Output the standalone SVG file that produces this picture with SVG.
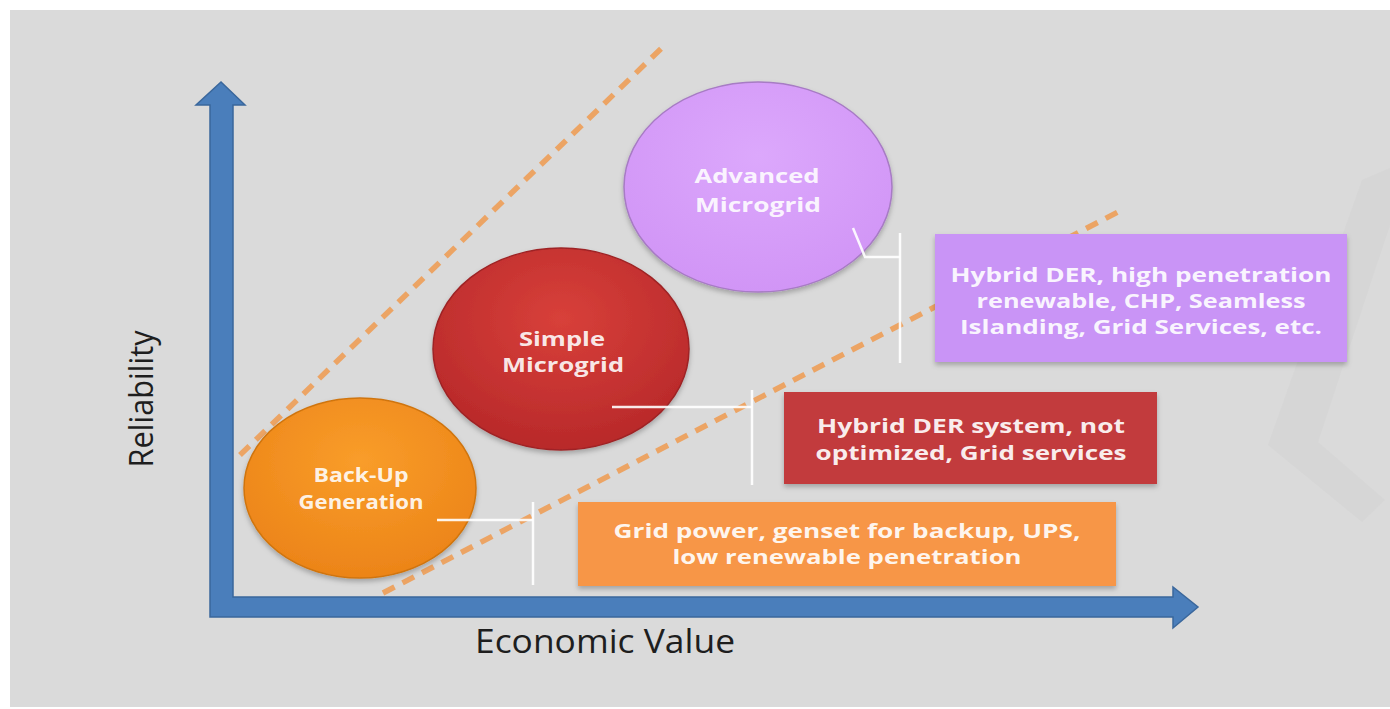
<svg xmlns="http://www.w3.org/2000/svg" width="1390" height="709" viewBox="0 0 1390 709">
  <style>
    .lbl { font-family: "Open Sans", "Noto Sans", "Liberation Sans", sans-serif; font-weight: 700; text-anchor: middle; }
    .node-txt { fill: #ffffff; fill-opacity: 0.9; font-size: 20px; }
    .box-txt { fill: #ffffff; fill-opacity: 0.92; font-size: 20px; }
    .axis-txt { font-family: "Open Sans", "Noto Sans", "Liberation Sans", sans-serif; fill: #1e1e1e; font-size: 32px; text-anchor: middle; }
    .guide { fill: none; stroke: #ee9a4f; stroke-width: 5.5; stroke-dasharray: 13 9; stroke-opacity: 0.85; }
    .conn { fill: none; stroke: #ffffff; stroke-width: 2.5; stroke-opacity: 0.9; }
  </style>
  <defs>
    <filter id="shadow" x="-10%" y="-10%" width="120%" height="125%">
      <feDropShadow dx="0" dy="3" stdDeviation="2.5" flood-color="#000000" flood-opacity="0.25"/>
    </filter>
    <radialGradient id="gPurple" cx="50%" cy="35%" r="65%">
      <stop offset="0" stop-color="#dca8fc"/>
      <stop offset="1" stop-color="#d195f6"/>
    </radialGradient>
    <radialGradient id="gRed" cx="50%" cy="35%" r="65%">
      <stop offset="0" stop-color="#d8403a"/>
      <stop offset="1" stop-color="#b8292a"/>
    </radialGradient>
    <radialGradient id="gOrange" cx="50%" cy="35%" r="65%">
      <stop offset="0" stop-color="#f99d2a"/>
      <stop offset="1" stop-color="#ec8418"/>
    </radialGradient>
  </defs>

  <!-- backdrop panel -->
  <rect x="0" y="0" width="1390" height="709" fill="#ffffff"/>
  <rect x="10" y="10" width="1380" height="697" fill="#dadada"/>
  <!-- faint chevron mark at the right edge -->
  <polygon points="1362,180 1390,168 1390,225 1318,442 1385,500 1362,522 1268,445" fill="#c4c4c4" fill-opacity="0.15"/>

  <!-- dashed zone boundaries -->
  <g id="guides">
    <line class="guide" x1="240" y1="455" x2="667" y2="43"/>
    <line class="guide" x1="383" y1="593" x2="1118" y2="212"/>
  </g>

  <!-- axes -->
  <g id="axes">
    <path d="M210,617 L210,105 L196,105 L221,82 L245,105 L233,105 L233,597 L1173,597 L1173,587 L1198,607 L1173,628 L1173,617 Z" fill="#4a7ebb" stroke="#3a679c" stroke-width="1.5"/>
    <text class="axis-txt" x="605" y="653" textLength="260" lengthAdjust="spacingAndGlyphs">Economic Value</text>
    <text class="axis-txt" transform="translate(153,399) rotate(-90)" x="0" y="0" font-size="30" textLength="137" lengthAdjust="spacingAndGlyphs">Reliability</text>
  </g>

  <!-- stages -->
  <g id="node-backup">
    <ellipse cx="360" cy="488" rx="116" ry="90" fill="url(#gOrange)" stroke="#d07510" stroke-width="1.5" filter="url(#shadow)"/>
    <text class="lbl node-txt" x="361" y="482" font-size="15" textLength="95" lengthAdjust="spacingAndGlyphs">Back-Up</text>
    <text class="lbl node-txt" x="361" y="509" font-size="15" textLength="125" lengthAdjust="spacingAndGlyphs">Generation</text>
  </g>
  <g id="node-simple">
    <ellipse cx="561" cy="349" rx="128" ry="101" fill="url(#gRed)" stroke="#9e2425" stroke-width="1.5" filter="url(#shadow)"/>
    <text class="lbl node-txt" x="562" y="346" textLength="86" lengthAdjust="spacingAndGlyphs">Simple</text>
    <text class="lbl node-txt" x="563" y="372" textLength="122" lengthAdjust="spacingAndGlyphs">Microgrid</text>
  </g>
  <g id="node-advanced">
    <ellipse cx="758" cy="187" rx="134" ry="105" fill="url(#gPurple)" stroke="#a77bc4" stroke-width="1.5" filter="url(#shadow)"/>
    <text class="lbl node-txt" x="757" y="183" textLength="125" lengthAdjust="spacingAndGlyphs">Advanced</text>
    <text class="lbl node-txt" x="758" y="212" textLength="126" lengthAdjust="spacingAndGlyphs">Microgrid</text>
  </g>

  <!-- connectors from each stage to its description -->
  <g id="connectors">
    <line class="conn" x1="437" y1="520" x2="533" y2="520"/>
    <line class="conn" x1="533" y1="502" x2="533" y2="585"/>
    <line class="conn" x1="612" y1="407" x2="752" y2="407"/>
    <line class="conn" x1="752" y1="390" x2="752" y2="485"/>
    <polyline class="conn" points="853,228 865,257 900,257"/>
    <line class="conn" x1="900" y1="233" x2="900" y2="363"/>
  </g>

  <!-- descriptions -->
  <g id="desc-backup">
    <rect x="578" y="502" width="538" height="84" fill="#f79646" filter="url(#shadow)"/>
    <text class="lbl box-txt" x="847" y="538" textLength="467" lengthAdjust="spacingAndGlyphs">Grid power, genset for backup, UPS,</text>
    <text class="lbl box-txt" x="847" y="564" textLength="349" lengthAdjust="spacingAndGlyphs">low renewable penetration</text>
  </g>
  <g id="desc-simple">
    <rect x="784" y="392" width="373" height="92" fill="#c23b3c" filter="url(#shadow)"/>
    <text class="lbl box-txt" x="971" y="433" textLength="308" lengthAdjust="spacingAndGlyphs">Hybrid DER system, not</text>
    <text class="lbl box-txt" x="971" y="460" textLength="311" lengthAdjust="spacingAndGlyphs">optimized, Grid services</text>
  </g>
  <g id="desc-advanced">
    <rect x="935" y="234" width="412" height="128" fill="#c994f6" filter="url(#shadow)"/>
    <text class="lbl box-txt" x="1141" y="282" textLength="381" lengthAdjust="spacingAndGlyphs">Hybrid DER, high penetration</text>
    <text class="lbl box-txt" x="1141" y="308" textLength="329" lengthAdjust="spacingAndGlyphs">renewable, CHP, Seamless</text>
    <text class="lbl box-txt" x="1141" y="334" textLength="362" lengthAdjust="spacingAndGlyphs">Islanding, Grid Services, etc.</text>
  </g>
</svg>
